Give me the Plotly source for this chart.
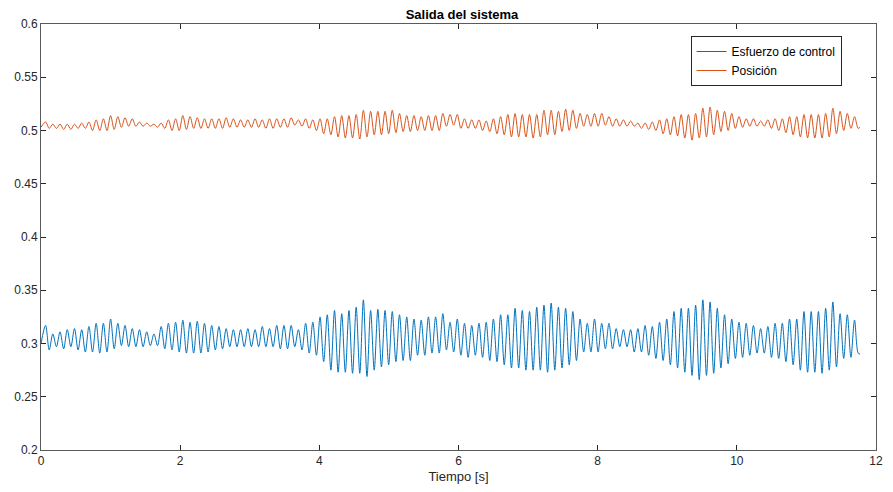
import numpy as np
import plotly.graph_objects as go

# Sampling of the extrema (peak / trough pairs), seconds
t_first_peak = 0.066
half_period = 0.0519
t_end = 11.77

# Esfuerzo de control: peak and trough values, cycle by cycle
blue_start = 0.300
blue_end = 0.290
blue_peaks = [
    .317, .309, .311, .313, .314, .313, .316, .319, .319, .323, .319, .317, .314, .313, .311, .309, .316,
    .319, .320, .322, .320, .321, .319, .317, .316, .314, .313, .313, .314, .313, .316, .314, .317, .317,
    .317, .313, .319, .320, .325, .327, .331, .328, .331, .334, .341, .331, .332, .331, .330, .327, .325,
    .323, .322, .325, .325, .328, .320, .323, .319, .317, .319, .320, .323, .327, .327, .333, .331, .330,
    .334, .336, .338, .334, .333, .330, .323,
    .319, .323, .319, .319, .314, .313, .313, .314, .317, .316, .320, .323, .330, .333, .333, .336, .341,
    .339, .333, .327, .323, .320, .319, .317, .314, .316, .319, .319, .323, .323, .330, .330, .330, .333,
    .339, .328, .327, .322,
]
blue_troughs = [
    .294, .297, .295, .297, .294, .292, .292, .291, .292, .295, .298, .297, .297, .297, .298, .298, .295,
    .294, .292, .291, .291, .291, .292, .294, .295, .297, .297, .297, .297, .297, .297, .297, .295, .295,
    .297, .294, .291, .289, .283, .275, .273, .273, .272, .272, .269, .275, .278, .280, .283, .284, .284,
    .289, .289, .291, .291, .294, .292, .289, .287, .289, .287, .284, .283, .280, .277, .277, .275, .275,
    .275, .273, .275, .277, .280, .284, .292,
    .292, .292, .295, .295, .297, .297, .292, .292, .289, .286, .284, .280, .277, .273, .270, .266, .270,
    .272, .277, .281, .286, .287, .289, .291, .291, .287, .286, .283, .280, .275, .273, .273, .272, .275,
    .278, .286, .287, .291,
]

# Posición: peak and trough values, cycle by cycle
orange_start = 0.503
orange_end = 0.503
orange_peaks = [
    .508, .506, .506, .506, .506, .507, .508, .510, .511, .514, .513, .512, .511, .508, .507, .506, .507,
    .510, .511, .514, .513, .512, .511, .511, .511, .512, .511, .510, .510, .511, .510, .511, .511, .511,
    .512, .510, .511, .510, .511, .511, .513, .514, .514, .515, .519, .518, .518, .518, .519, .516, .514,
    .514, .513, .514, .514, .516, .515, .515, .511, .510, .510, .509, .511, .513, .515, .516, .515, .515,
    .515, .519, .519, .518, .520, .519, .516,
    .515, .516, .516, .513, .511, .510, .509, .507, .507, .508, .510, .511, .513, .515, .515, .516, .521,
    .522, .519, .518, .516, .513, .511, .511, .509, .510, .511, .511, .513, .513, .515, .515, .515, .516,
    .521, .518, .516, .513,
]
orange_troughs = [
    .502, .502, .501, .501, .502, .502, .500, .500, .500, .501, .503, .504, .504, .504, .504, .503, .502,
    .500, .500, .501, .502, .502, .502, .502, .502, .503, .503, .503, .503, .503, .502, .502, .503, .503,
    .505, .504, .502, .500, .497, .496, .494, .493, .493, .492, .494, .496, .496, .497, .498, .499, .499,
    .500, .500, .500, .500, .504, .505, .502, .502, .502, .500, .499, .497, .496, .494, .494, .494, .493,
    .494, .496, .496, .499, .500, .502, .504,
    .504, .504, .505, .504, .504, .504, .504, .502, .501, .500, .497, .496, .495, .493, .491, .493, .494,
    .496, .499, .500, .502, .503, .504, .504, .504, .502, .500, .498, .496, .494, .493, .493, .493, .494,
    .497, .500, .502, .502,
]

y_ticks = [0.2, 0.25, 0.3, 0.35, 0.4, 0.45, 0.5, 0.55, 0.6]
y_tick_text = ["0.2", "0.25", "0.3", "0.35", "0.4", "0.45", "0.5", "0.55", "0.6"]
x_ticks = [0, 2, 4, 6, 8, 10, 12]


def build(start, peaks, troughs, end):
    n = len(peaks)
    tp = t_first_peak + 2 * half_period * np.arange(n)
    tt = tp + half_period
    t = np.empty(2 * n)
    v = np.empty(2 * n)
    t[0::2] = tp
    t[1::2] = tt
    v[0::2] = peaks
    v[1::2] = troughs
    t = np.concatenate([[0.0], t, [t_end]])
    v = np.concatenate([[start], v, [end]])
    return t, v


tb, vb = build(blue_start, blue_peaks, blue_troughs, blue_end)
to, vo = build(orange_start, orange_peaks, orange_troughs, orange_end)

fig = go.Figure()
fig.add_trace(go.Scatter(x=tb, y=vb, mode="lines", name="Esfuerzo de control",
                         line=dict(color="#0072BD", width=1, shape="spline", smoothing=0.9)))
fig.add_trace(go.Scatter(x=to, y=vo, mode="lines", name="Posición",
                         line=dict(color="#D95319", width=1, shape="spline", smoothing=0.9)))

axis_common = dict(showgrid=False, zeroline=False, showline=True, linecolor="#5a5a5a", linewidth=1,
                   mirror="ticks", ticks="inside", ticklen=5, tickcolor="#262626",
                   tickfont=dict(family="Liberation Sans, Arial, sans-serif", size=12, color="#262626"))

fig.update_layout(
    width=893, height=492,
    margin=dict(l=41, r=10, t=24, b=42),
    paper_bgcolor="white", plot_bgcolor="white",
    title=dict(text="<b>Salida del sistema</b>", x=(41 + 883) / 2 / 893, xanchor="center",
               y=1 - 14 / 492, yanchor="middle",
               font=dict(family="Liberation Sans, Arial, sans-serif", size=13, color="#000")),
    xaxis=dict(range=[0, 12], tickvals=x_ticks,
               title=dict(text="Tiempo [s]", standoff=4,
                          font=dict(family="Liberation Sans, Arial, sans-serif", size=13, color="#262626")),
               **axis_common),
    yaxis=dict(range=[0.2, 0.6], tickvals=y_ticks, ticktext=y_tick_text, **axis_common),
    legend=dict(x=(696 - 41) / 842, y=(450 - 36) / 426, xanchor="left", yanchor="top",
                bgcolor="white", bordercolor="#262626", borderwidth=1,
                font=dict(family="Liberation Sans, Arial, sans-serif", size=12, color="#000"),
                tracegroupgap=0, itemwidth=30),
    showlegend=True,
)

fig.write_html("out.html")
